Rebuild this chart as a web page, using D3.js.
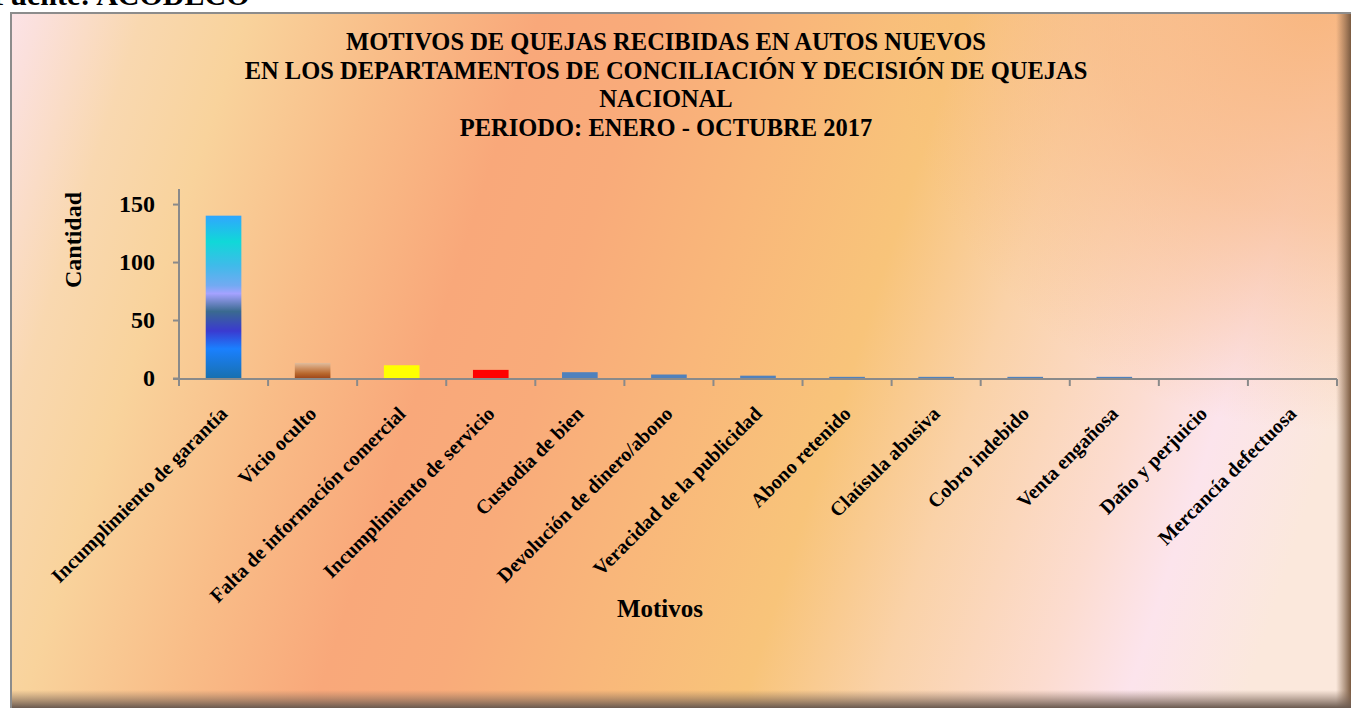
<!DOCTYPE html>
<meta charset="utf-8">
<style>
  html, body { margin: 0; padding: 0; background: #fff; overflow: hidden; }
  svg { display: block; font-family: "Liberation Serif", "Times New Roman", serif; font-weight: bold; }
</style>
<body>
<div id="chart"></div>
<script src="https://d3js.org/d3.v7.min.js"></script>
<script>
// data
const motivos = [
  "Incumplimiento de garantía", "Vicio oculto", "Falta de información comercial",
  "Incumplimiento de servicio", "Custodia de bien", "Devolución de dinero/abono",
  "Veracidad de la publicidad", "Abono retenido", "Claúsula abusiva",
  "Cobro indebido", "Venta engañosa", "Daño y perjuicio", "Mercancía defectuosa"
];
const cantidad = [140, 13, 11, 7, 5, 3, 2, 1, 1, 1, 1, 0, 0];
const yTicks = [0, 50, 100, 150];
const titleLines = [
  "MOTIVOS DE QUEJAS RECIBIDAS EN AUTOS NUEVOS",
  "EN LOS DEPARTAMENTOS DE CONCILIACIÓN Y DECISIÓN DE QUEJAS",
  "NACIONAL",
  "PERIODO: ENERO - OCTUBRE 2017"
];

const W = 1351, H = 708;
const svg = d3.select("#chart").append("svg").attr("width", W).attr("height", H);
const defs = svg.append("defs");

// 1. gradients
function lin(id, x1, y1, x2, y2, stops, user) {
  const g = defs.append("linearGradient").attr("id", id)
    .attr("x1", x1).attr("y1", y1).attr("x2", x2).attr("y2", y2);
  if (user) g.attr("gradientUnits", "userSpaceOnUse");
  stops.forEach(s => g.append("stop").attr("offset", s[0])
    .attr("stop-color", s[1]).attr("stop-opacity", s[2] == null ? 1 : s[2]));
}
// slightly tilted background, like the Excel preset fill
const ang = 18 * Math.PI / 180, len = 1400;
lin("bg", 0, 0, len * Math.cos(ang), len * Math.sin(ang), [
  [0, "#fce4ec"], [0.03, "#fbe0dc"], [0.1, "#f9d8b0"], [0.17, "#f9d39c"],
  [0.27, "#f9bd88"], [0.37, "#f9a87a"], [0.45, "#f9ab7a"], [0.55, "#f9b77a"],
  [0.66, "#f8c47a"], [0.75, "#fad2a8"], [0.86, "#fcdcd0"], [0.92, "#fce4ec"],
  [1, "#fbe8dc"]
], true);
const rg = defs.append("radialGradient").attr("id", "bgTopRight")
  .attr("gradientUnits", "userSpaceOnUse")
  .attr("cx", 1320).attr("cy", 0).attr("r", 430);
[[0, 0.95], [0.5, 0.6], [1, 0]].forEach(s => rg.append("stop")
  .attr("offset", s[0]).attr("stop-color", "#f8b47a").attr("stop-opacity", s[1]));

lin("shadowR", "0%", "0%", "100%", "0%", [
  [0, "#8a6a50", 0], [1, "#7a5a40", 1]
]);
lin("shadowB", "0%", "0%", "0%", "100%", [
  [0, "#8a7060", 0], [1, "#6a5a50", 1]
]);

// bar fills
lin("bar0", "0%", "0%", "0%", "100%", [
  [0, "#30a6ff"], [0.16, "#10d8d8"], [0.31, "#40baea"], [0.43, "#72aaf2"],
  [0.48, "#a4a2ff"], [0.59, "#3a6a90"], [0.71, "#3a3ad0"], [0.82, "#1a80ff"],
  [1, "#1870b0"]
]);
lin("bar1", "0%", "0%", "0%", "100%", [
  [0, "#e0bc9c"], [0.35, "#cf9264"], [0.7, "#b8682e"], [1, "#a0481a"]
]);
const barFills = ["url(#bar0)", "url(#bar1)", "#ffff00", "#ff0000"];
const defaultFill = "#4f81bd";

// 2. frame
const frame = { x: 10, y: 12, w: W - 10, h: H - 12 };
svg.append("rect").attr("x", frame.x).attr("y", frame.y)
  .attr("width", frame.w).attr("height", frame.h).attr("fill", "url(#bg)");
svg.append("rect").attr("x", frame.x).attr("y", frame.y)
  .attr("width", frame.w).attr("height", frame.h).attr("fill", "url(#bgTopRight)");
svg.append("rect").attr("x", 1336).attr("y", frame.y)
  .attr("width", W - 1336).attr("height", frame.h).attr("fill", "url(#shadowR)");
svg.append("rect").attr("x", frame.x).attr("y", 690)
  .attr("width", frame.w).attr("height", H - 690).attr("fill", "url(#shadowB)");
svg.append("path")
  .attr("d", `M${frame.x + 1},${H} V${frame.y + 1} H${W}`)
  .attr("fill", "none").attr("stroke", "#8c8c8c").attr("stroke-width", 2);

// source text (cut at top, as in the picture)
svg.append("text").attr("x", -8).attr("y", 5)
  .attr("font-size", 30).attr("fill", "#000").text("Fuente: ACODECO");

// 3. title
svg.append("g").selectAll("text").data(titleLines).join("text")
  .attr("x", 666).attr("y", (d, i) => 50 + i * 28.7)
  .attr("text-anchor", "middle").attr("font-size", 24.5).attr("fill", "#000")
  .text(d => d);

// 4. scales
const x = d3.scaleBand().domain(motivos).range([179, 1337])
  .paddingInner(0.6).paddingOuter(0.3);
const y = d3.scaleLinear().domain([0, 163]).range([378, 189]);

// 5. bars
svg.append("g").selectAll("rect").data(cantidad).join("rect")
  .attr("x", (d, i) => x(motivos[i]))
  .attr("y", d => y(d))
  .attr("width", x.bandwidth())
  .attr("height", d => y(0) - y(d))
  .attr("fill", (d, i) => barFills[i] || defaultFill);

// 6. axes
const axisColor = "#8a8a8a";
const y0 = y(0) + 1;
const yAxis = svg.append("g").attr("transform", `translate(${x.range()[0]},0)`)
  .call(d3.axisLeft(y).tickValues(yTicks).tickSize(6).tickPadding(18));
yAxis.select(".domain").remove();
yAxis.append("line").attr("y1", y(163)).attr("y2", y0)
  .attr("stroke", axisColor).attr("stroke-width", 2);
yAxis.selectAll(".tick line").attr("stroke", axisColor).attr("stroke-width", 2);
yAxis.selectAll(".tick text").attr("font-size", 24).attr("fill", "#000")
  .attr("font-family", "Liberation Serif").attr("font-weight", "bold");

const xAxis = svg.append("g").attr("transform", `translate(0,${y0})`);
xAxis.append("line").attr("x1", x.range()[0] - 6).attr("x2", x.range()[1])
  .attr("stroke", axisColor).attr("stroke-width", 2);
xAxis.selectAll(".tk").data(d3.range(motivos.length + 1)).join("line")
  .attr("x1", i => x.range()[0] + i * x.step()).attr("x2", i => x.range()[0] + i * x.step())
  .attr("y1", 0).attr("y2", 7).attr("stroke", axisColor).attr("stroke-width", 2);
xAxis.selectAll(".lbl").data(motivos).join("text")
  .attr("transform", d => `translate(${x(d) + x.bandwidth() / 2 + 5},${36}) rotate(-45)`)
  .attr("text-anchor", "end").attr("font-size", 20).attr("fill", "#000")
  .text(d => d);

// 7. axis titles
svg.append("text").attr("transform", "translate(81,240) rotate(-90)")
  .attr("text-anchor", "middle").attr("font-size", 24).text("Cantidad");
svg.append("text").attr("x", 660).attr("y", 617)
  .attr("text-anchor", "middle").attr("font-size", 25).text("Motivos");
</script>
</body>
